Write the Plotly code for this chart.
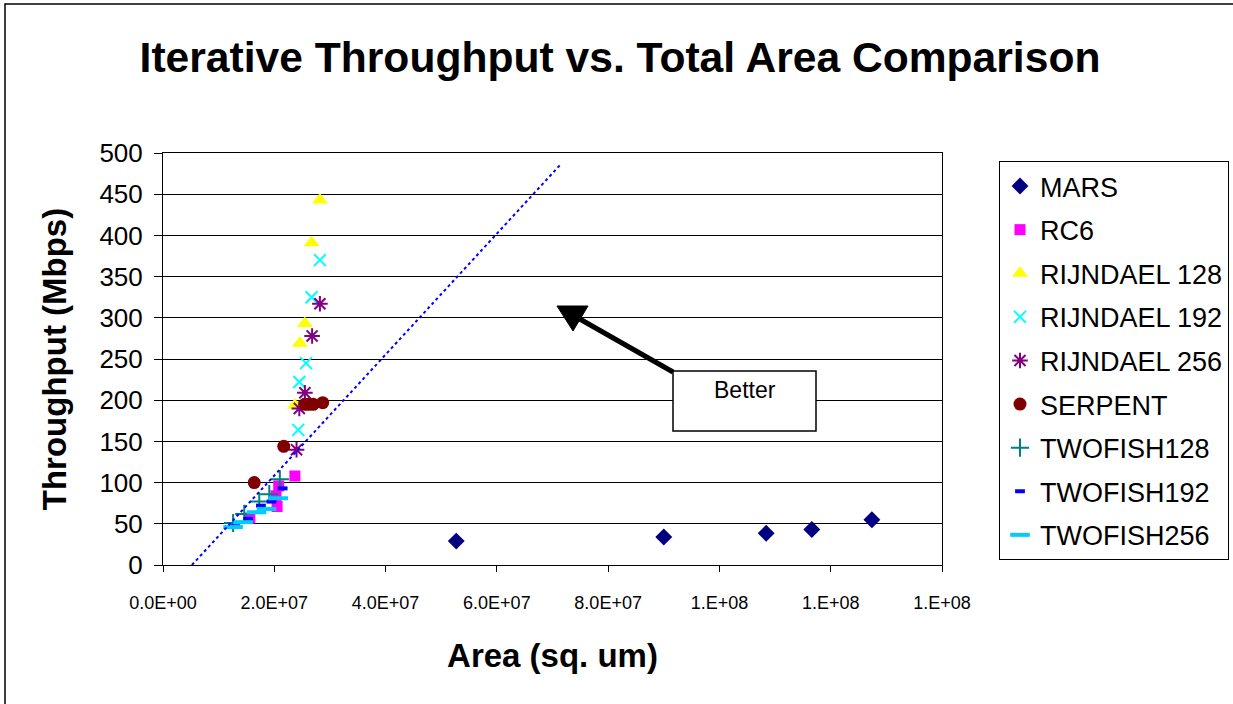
import plotly.graph_objects as go

# ---- data (area in sq. um, throughput in Mbps) ----
mars_x = [5.27e7, 9.0e7, 1.084e8, 1.166e8, 1.274e8]
mars_y = [29, 34, 38.5, 43, 55]

rc6_x = [1.56e7, 2.05e7, 2.03e7, 2.08e7, 2.37e7]
rc6_y = [57, 71, 84, 96, 108]

rij128_x = [2.37e7, 2.46e7, 2.55e7, 2.67e7, 2.82e7]
rij128_y = [194, 269, 293, 391, 443]

rij192_x = [2.43e7, 2.45e7, 2.57e7, 2.67e7, 2.82e7]
rij192_y = [164, 222, 245, 325, 370]

rij256_x = [2.40e7, 2.45e7, 2.55e7, 2.68e7, 2.82e7]
rij256_y = [140, 190, 209, 278, 317]

serpent_x = [1.64e7, 2.17e7, 2.55e7, 2.62e7, 2.70e7, 2.87e7]
serpent_y = [100, 144, 195, 195, 195, 197]

tf128_x = [1.26e7, 1.46e7, 1.73e7, 1.91e7, 2.10e7]
tf128_y = [51, 62, 77, 86, 104]

tf192_x = [1.30e7, 1.53e7, 1.76e7, 1.95e7, 2.15e7]
tf192_y = [47, 56, 72, 77, 93]

tf256_x = [1.26e7, 1.44e7, 1.68e7, 1.86e7, 2.07e7]
tf256_y = [46, 52, 64, 68, 81]

trend_x = [5.2e6, 7.13e7]
trend_y = [0, 485]

x_tickvals = [0, 2e7, 4e7, 6e7, 8e7, 1e8, 1.2e8, 1.4e8]
# the reference shows "1.E+08" for every tick from 1e8 on
x_ticktext = ["0.0E+00", "2.0E+07", "4.0E+07", "6.0E+07", "8.0E+07",
              "1.E+08", "1.E+08", "1.E+08"]
y_tickvals = list(range(0, 501, 50))

FONT = "Arial, Liberation Sans, sans-serif"

series = [
    ("MARS", mars_x, mars_y, dict(symbol="diamond", size=13, color="#000080")),
    ("RC6", rc6_x, rc6_y, dict(symbol="square", size=11, color="#FF00FF")),
    ("RIJNDAEL 128", rij128_x, rij128_y, dict(symbol="triangle-up", size=14, color="#FFFF00")),
    ("RIJNDAEL 192", rij192_x, rij192_y, dict(symbol="x-thin-open", size=12, color="#00FFFF",
                                               line=dict(width=2, color="#00FFFF"))),
    ("RIJNDAEL 256", rij256_x, rij256_y, dict(symbol="asterisk-open", size=13, color="#800080",
                                               line=dict(width=2, color="#800080"))),
    ("SERPENT", serpent_x, serpent_y, dict(symbol="circle", size=13, color="#800000")),
    ("TWOFISH128", tf128_x, tf128_y, dict(symbol="cross-thin-open", size=13, color="#008080",
                                           line=dict(width=2, color="#008080"))),
    ("TWOFISH192", tf192_x, tf192_y, dict(symbol="line-ew-open", size=7, color="#0000FF",
                                           line=dict(width=4, color="#0000FF"))),
    ("TWOFISH256", tf256_x, tf256_y, dict(symbol="line-ew-open", size=14, color="#00CCFF",
                                           line=dict(width=4, color="#00CCFF"))),
]

fig = go.Figure()
for name, xs, ys, mk in series:
    fig.add_trace(go.Scatter(x=xs, y=ys, mode="markers", name=name, marker=mk,
                             legendgroup=name))

fig.add_trace(go.Scatter(x=trend_x, y=trend_y, mode="lines", showlegend=False,
                         line=dict(color="#0000FF", width=2, dash="dot"),
                         hoverinfo="skip"))

L, R, T, B = 163, 291, 153, 139
W, H = 1233, 704
pw, ph = W - L - R, H - T - B


def px(xp):
    return (xp - L) / pw * 1.4e8


def py(yp):
    return (H - B - yp) / ph * 500


shapes = [
    # outer chart border
    dict(type="rect", xref="paper", yref="paper",
         x0=(5 - L) / pw, x1=(1250 - L) / pw,
         y0=-(715 - (H - B)) / ph, y1=(H - B - 4) / ph,
         line=dict(color="black", width=1.5), layer="below"),
    # Better box
    dict(type="rect", xref="x", yref="y", x0=px(673), x1=px(816), y0=py(431), y1=py(371),
         line=dict(color="black", width=1.5), fillcolor="white"),
    # arrow shaft
    dict(type="line", xref="x", yref="y", x0=px(673), y0=py(372), x1=px(578), y1=py(318),
         line=dict(color="black", width=5)),
    # arrow head
    dict(type="path", xref="x", yref="y",
         path=f"M {px(557)} {py(306)} L {px(588)} {py(306)} L {px(573)} {py(331)} Z",
         fillcolor="black", line=dict(color="black", width=1)),
]

fig.update_layout(
    width=W, height=H,
    margin=dict(l=L, r=R, t=T, b=B, autoexpand=False),
    paper_bgcolor="white", plot_bgcolor="white",
    font=dict(family=FONT, color="black"),
    title=dict(text="<b>Iterative Throughput vs. Total Area Comparison</b>",
               x=620 / W, xref="container", xanchor="center",
               y=1 - 57 / H, yref="container", yanchor="middle",
               font=dict(size=42.6, family=FONT, color="black")),
    showlegend=True,
    legend=dict(x=(999 - L) / pw, xanchor="left", y=(H - B - 161) / ph, yanchor="top",
                bordercolor="black", borderwidth=1, bgcolor="white",
                font=dict(size=27, family=FONT, color="black"),
                tracegroupgap=5.5, itemsizing="trace"),
    shapes=shapes,
    annotations=[
        dict(text="Better", x=px(744.5), y=py(390), xref="x", yref="y",
             showarrow=False, font=dict(size=23, family=FONT, color="black")),
    ],
)

fig.update_xaxes(range=[0, 1.4e8], tickvals=x_tickvals, ticktext=x_ticktext,
                 showgrid=False, zeroline=False, showline=True, linecolor="black",
                 linewidth=1, mirror=True, ticks="outside", ticklen=6, tickcolor="black",
                 ticklabelstandoff=15,
                 tickfont=dict(size=18, family=FONT, color="black"),
                 title=dict(text="<b>Area (sq. um)</b>", standoff=32,
                            font=dict(size=33, family=FONT, color="black")))
fig.update_yaxes(range=[0, 500], tickvals=y_tickvals,
                 showgrid=True, gridcolor="black", gridwidth=1,
                 zeroline=False, showline=True, linecolor="black",
                 linewidth=1, mirror=True, ticks="outside", ticklen=8, tickcolor="black",
                 ticklabelstandoff=6,
                 tickfont=dict(size=26, family=FONT, color="black"),
                 title=dict(text="<b>Throughput (Mbps)</b>", standoff=22,
                            font=dict(size=33, family=FONT, color="black")))

fig.write_html("out.html")
